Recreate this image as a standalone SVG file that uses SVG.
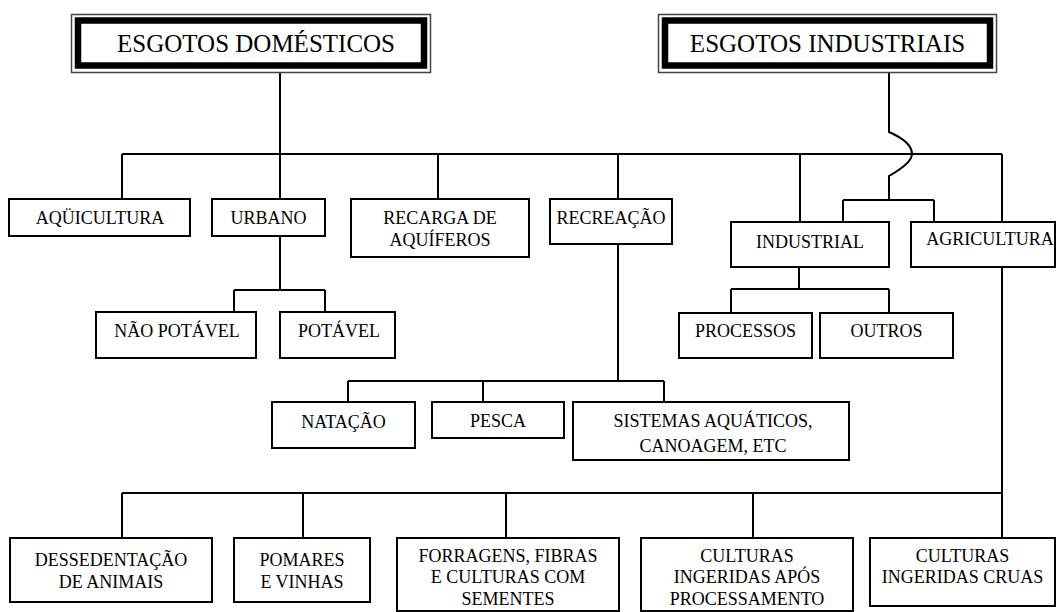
<svg xmlns="http://www.w3.org/2000/svg" width="1057" height="612" viewBox="0 0 1057 612">
<style>
.b{fill:#fff;stroke:#000;stroke-width:2}
.t{font-size:18px;fill:#000;text-anchor:middle}
.h{font-size:25px;fill:#000;text-anchor:middle}
.o{fill:#fff;stroke:#444;stroke-width:1.5}
.k{fill:none;stroke:#000;stroke-width:6.5}
.c{fill:none;stroke:#000;stroke-width:2}
</style>
<rect width="1057" height="612" fill="#fff"/>
<g id="connectors">
<path class="c" d="M280,69V154M122,154H1002M122,154V199M280,154V199M438,154V199M618,154V199M800,154V222M1002,154V222"/>
<path class="c" d="M889,69V132Q912,142 912,154Q912,163 889,176V200M843,200H934M843,200V222M934,200V222"/>
<path class="c" d="M280,236V290M234,290H325M234,290V312M325,290V312"/>
<path class="c" d="M618,244V381M348,381H664M348,381V402M483,381V402M664,381V402"/>
<path class="c" d="M799,267V289M731,289H889M731,289V313M889,289V313"/>
<path class="c" d="M1002,267V538M122,493H1002M122,493V538M303,493V538M506,493V538M753,493V538"/>
</g>
<g font-family="Liberation Serif, DejaVu Serif, serif">
<g id="domesticos">
<rect class="o" x="71.5" y="14.5" width="359" height="58"/>
<rect class="k" x="78" y="20.5" width="346" height="45"/>
<text class="h" x="256" y="52">ESGOTOS DOMÉSTICOS</text>
</g>
<g id="industriais">
<rect class="o" x="658.5" y="14.5" width="338" height="58"/>
<rect class="k" x="665" y="20.5" width="325" height="45"/>
<text class="h" x="827.5" y="52">ESGOTOS INDUSTRIAIS</text>
</g>
<g id="aquicultura"><rect class="b" x="9" y="199" width="181" height="37"/><text class="t" x="100" y="224">AQÜICULTURA</text></g>
<g id="urbano"><rect class="b" x="212" y="199" width="113" height="37"/><text class="t" x="268.5" y="224">URBANO</text></g>
<g id="recarga"><rect class="b" x="351" y="199" width="178" height="58"/><text class="t" x="440" y="224">RECARGA DE</text><text class="t" x="440" y="246">AQUÍFEROS</text></g>
<g id="recreacao"><rect class="b" x="550" y="199" width="122" height="45"/><text class="t" x="611" y="224">RECREAÇÃO</text></g>
<g id="industrial"><rect class="b" x="731" y="222" width="158" height="45"/><text class="t" x="810" y="248">INDUSTRIAL</text></g>
<g id="agricultura"><rect class="b" x="911" y="222" width="144" height="45"/><text class="t" x="990" y="245">AGRICULTURA</text></g>
<g id="nao-potavel"><rect class="b" x="96" y="312" width="160" height="46"/><text class="t" x="177" y="337">NÃO POTÁVEL</text></g>
<g id="potavel"><rect class="b" x="280" y="312" width="115" height="46"/><text class="t" x="339" y="337">POTÁVEL</text></g>
<g id="processos"><rect class="b" x="679" y="313" width="133" height="45"/><text class="t" x="745.5" y="337">PROCESSOS</text></g>
<g id="outros"><rect class="b" x="820" y="313" width="133" height="45"/><text class="t" x="886.5" y="337">OUTROS</text></g>
<g id="natacao"><rect class="b" x="272" y="402" width="143" height="46"/><text class="t" x="343.5" y="428">NATAÇÃO</text></g>
<g id="pesca"><rect class="b" x="432" y="402" width="132" height="36"/><text class="t" x="498" y="427">PESCA</text></g>
<g id="sistemas"><rect class="b" x="573" y="402" width="276" height="58"/><text class="t" x="713" y="427">SISTEMAS AQUÁTICOS,</text><text class="t" x="713" y="452">CANOAGEM, ETC</text></g>
<g id="dessedentacao"><rect class="b" x="10" y="538" width="202" height="64"/><text class="t" x="111" y="566">DESSEDENTAÇÃO</text><text class="t" x="111" y="588">DE ANIMAIS</text></g>
<g id="pomares"><rect class="b" x="234" y="538" width="136" height="64"/><text class="t" x="302" y="566">POMARES</text><text class="t" x="302" y="588">E VINHAS</text></g>
<g id="forragens"><rect class="b" x="397" y="538" width="222" height="73"/><text class="t" x="508" y="562">FORRAGENS, FIBRAS</text><text class="t" x="508" y="583">E CULTURAS COM</text><text class="t" x="508" y="605">SEMENTES</text></g>
<g id="culturas-apos"><rect class="b" x="641" y="538" width="212" height="73"/><text class="t" x="747" y="562">CULTURAS</text><text class="t" x="747" y="583">INGERIDAS APÓS</text><text class="t" x="747" y="605">PROCESSAMENTO</text></g>
<g id="culturas-cruas"><rect class="b" x="870" y="538" width="185" height="68"/><text class="t" x="962.5" y="562">CULTURAS</text><text class="t" x="962.5" y="583">INGERIDAS CRUAS</text></g>
</g>
</svg>
